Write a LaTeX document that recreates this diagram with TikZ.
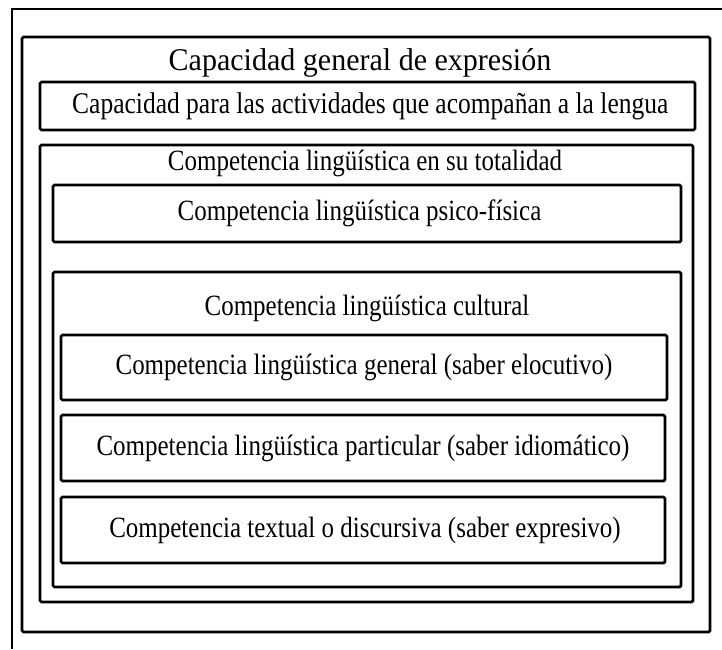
\documentclass[tikz,border=0pt]{standalone}
\usepackage{fontspec}
\setmainfont{Liberation Serif}
\newfontfamily\titlefont{Liberation Serif}[FakeStretch=0.95] % slightly narrow
\newfontfamily\tallfont{Liberation Serif}[FakeStretch=0.85] % narrow, tall letters
\usepackage{tikz}
\usetikzlibrary{ calc, positioning }
\tikzset{
x=1pt, y=-1pt, % one unit is one pixel of the picture
box/.style={draw, line width=2.8pt, rounded corners=1.5pt, inner sep=0pt}, % the thick boxes
big/.style={font=\titlefont\fontsize{31.6}{36}\selectfont}, % title of the outer box
mid/.style={font=\tallfont\fontsize{30}{35}\selectfont}, % second line
small/.style={font=\tallfont\fontsize{29.4}{34}\selectfont}, % the inner texts
}
\begin{document}
\begin{tikzpicture}
  \useasboundingbox (0,0) rectangle (722,649);
  % thin frame, cut off at right and bottom
  \coordinate (fsw) at (12,649);
  \coordinate (fnw) at (12,9);
  \coordinate (fne) at (722,9);
  \draw[line width=1.6pt] (fsw) -- (fnw) -- (fne);
  % outer box
  \node[box, minimum width=688, minimum height=595] (capgen) at (366,334.5) {};
  \node[big] (capgentitle) at (360,63) {Capacidad general de expresión};
  \node[box, minimum width=655, minimum height=48] (actividades) at (367.5,106) {};
  \node[mid, anchor=west, inner sep=0pt] (actividadestext) at (72,106) {Capacidad para las actividades que acompañan a la lengua};
  % totality
  \node[box, minimum width=653, minimum height=457] (totalidad) at (366.5,373.5) {};
  \node[small] (totalidadtitle) at (365,163) {Competencia lingüística en su totalidad};
  \node[box, minimum width=628, minimum height=57] (psicofisica) at (367,213.5) {};
  \node[small] (psicofisicatext) at (359.5,213.5) {Competencia lingüística psico-física};
  % cultural
  \node[box, minimum width=628, minimum height=315] (cultural) at (367,429.5) {};
  \node[small] (culturaltitle) at (367,308) {Competencia lingüística cultural};
  \node[box, small, minimum width=606, minimum height=65] (general) at (364,367.5) {Competencia lingüística general (saber elocutivo)};
  \node[box, small, minimum width=604, minimum height=66] (particular) at (363,448) {Competencia lingüística particular (saber idiomático)};
  \node[box, minimum width=604, minimum height=66] (textual) at (363,530) {};
  \node[small] (textualtext) at (365,530) {Competencia textual o discursiva (saber expresivo)};
\end{tikzpicture}
\end{document}
